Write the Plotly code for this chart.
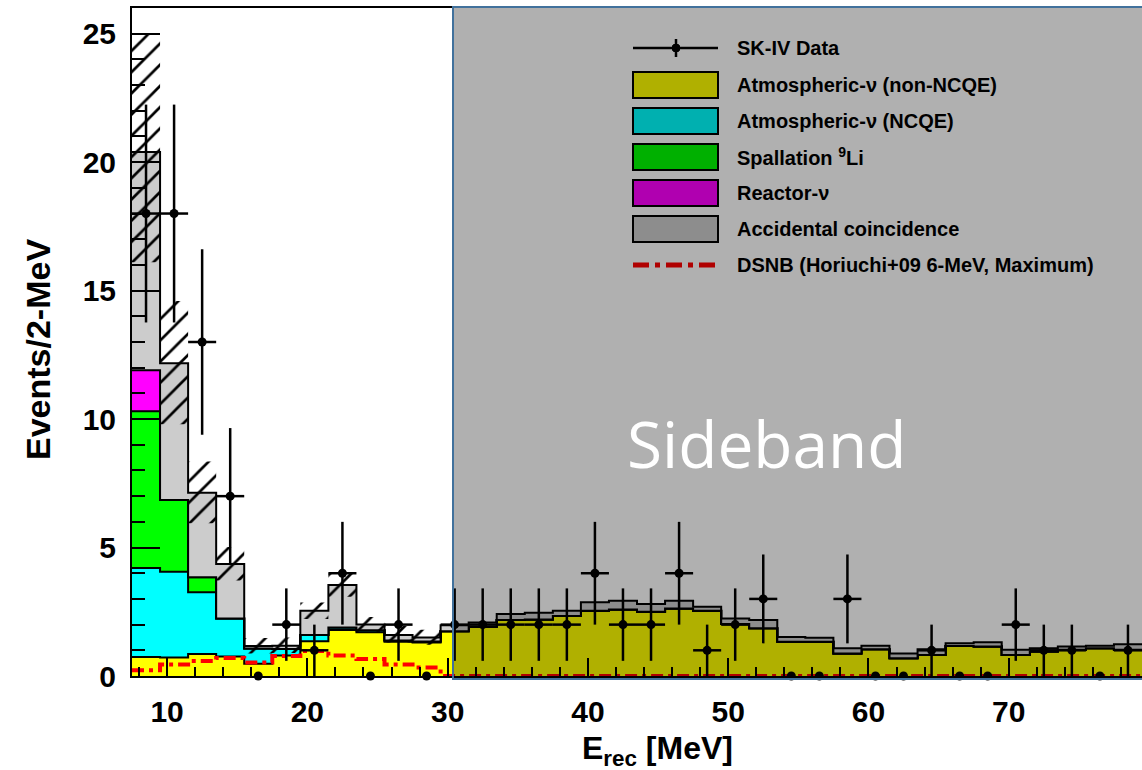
import numpy as np
import plotly.graph_objects as go

# ---------------- data ----------------
e_centers = [8.5, 10.5, 12.5, 14.5, 16.5, 18.5, 20.5, 22.5, 24.5, 26.5, 28.5,
             30.5, 32.5, 34.5, 36.5, 38.5, 40.5, 42.5, 44.5, 46.5, 48.5, 50.5,
             52.5, 54.5, 56.5, 58.5, 60.5, 62.5, 64.5, 66.5, 68.5, 70.5, 72.5,
             74.5, 76.5, 78.5]
bin_width = 2.0

atm_non_ncqe = [0.74, 0.72, 0.86, 0.76, 0.48, 0.80, 1.35, 1.79, 1.70, 1.33, 1.30,
                1.74, 1.92, 2.18, 2.20, 2.34, 2.54, 2.59, 2.50, 2.63, 2.54, 2.02,
                1.86, 1.33, 1.33, 0.88, 1.04, 0.69, 0.82, 1.17, 1.15, 0.82, 0.95,
                1.02, 1.08, 1.02]
atm_ncqe = [3.46, 3.34, 2.40, 1.48, 0.59, 0.25, 0.25, 0.10, 0.08, 0.05, 0.04,
            0, 0, 0, 0, 0, 0, 0, 0, 0, 0, 0, 0, 0, 0, 0, 0, 0, 0, 0, 0, 0, 0, 0, 0, 0]
spallation_li9 = [6.10, 2.79, 0.58, 0, 0, 0, 0, 0, 0, 0, 0,
                  0, 0, 0, 0, 0, 0, 0, 0, 0, 0, 0, 0, 0, 0, 0, 0, 0, 0, 0, 0, 0, 0, 0, 0, 0]
reactor_nu = [1.60, 0, 0, 0, 0, 0, 0, 0, 0, 0, 0,
              0, 0, 0, 0, 0, 0, 0, 0, 0, 0, 0, 0, 0, 0, 0, 0, 0, 0, 0, 0, 0, 0, 0, 0, 0]
accidental = [8.50, 5.32, 3.29, 2.12, 0.10, 0.13, 0.94, 1.65, 0.22, 0.22, 0.16,
              0.24, 0.16, 0.23, 0.26, 0.20, 0.33, 0.34, 0.30, 0.30, 0.16, 0.22,
              0.32, 0.19, 0.16, 0.20, 0.14, 0.19, 0.22, 0.10, 0.16, 0.20, 0.13,
              0.13, 0.10, 0.22]

dsnb = [0.22, 0.45, 0.58, 0.70, 0.53, 0.78, 0.97, 0.80, 0.66, 0.45, 0.33,
        0, 0, 0, 0, 0, 0, 0, 0, 0, 0, 0, 0, 0, 0, 0, 0, 0, 0, 0, 0, 0, 0, 0, 0, 0]

# systematic band (hatched) in the signal region, 7.5-29.5 MeV
band_lo = [16.1, 9.8, 5.95, 3.72, 0.88, 0.90, 2.22, 3.08, 1.72, 1.30, 1.22]
band_hi = [25.0, 14.6, 8.35, 5.02, 1.48, 1.50, 2.86, 4.00, 2.30, 1.95, 1.80]

data_counts = [18, 18, 13, 7, 0, 2, 1, 4, 0, 2, 0, 2, 2, 2, 2, 2, 4, 2, 2, 4, 1, 2,
               3, 0, 0, 3, 0, 0, 1, 0, 0, 2, 1, 1, 0, 1]
data_err = [4.24, 4.24, 3.61, 2.65, 0, 1.41, 1.0, 2.0, 0, 1.41, 0, 1.41, 1.41, 1.41,
            1.41, 1.41, 2.0, 1.41, 1.41, 2.0, 1.0, 1.41, 1.73, 0, 0, 1.73, 0, 0,
            1.0, 0, 0, 1.41, 1.0, 1.0, 0, 1.0]

legend_labels = ["SK-IV Data", "Atmospheric-ν (non-NCQE)", "Atmospheric-ν (NCQE)",
                 "Spallation <sup>9</sup>Li", "Reactor-ν", "Accidental coincidence",
                 "DSNB (Horiuchi+09 6-MeV, Maximum)"]

# ---------------- styles ----------------
C_YELLOW, C_CYAN, C_GREEN, C_MAGENTA, C_GRAY = "#ffff00", "#00ffff", "#00ff00", "#ff00ff", "#cccccc"
FONT = "Liberation Sans, Arial, sans-serif"

edges = [c - bin_width / 2 for c in e_centers] + [e_centers[-1] + bin_width / 2]

fig = go.Figure()

# stacked histogram, drawn as step fills
layers = [(atm_non_ncqe, C_YELLOW), (atm_ncqe, C_CYAN), (spallation_li9, C_GREEN),
          (reactor_nu, C_MAGENTA), (accidental, C_GRAY)]
cum = np.zeros(len(e_centers))
for i, (vals, col) in enumerate(layers):
    cum = cum + np.array(vals)
    fig.add_trace(go.Scatter(
        x=edges, y=list(cum) + [cum[-1]], mode="lines", line_shape="hv",
        line=dict(color="black", width=2), fill="tozeroy" if i == 0 else "tonexty",
        fillcolor=col, hoverinfo="skip"))

# hatched uncertainty band
n_sig = len(band_lo)
sig_edges = edges[:n_sig + 1]
fig.add_trace(go.Scatter(x=sig_edges, y=band_lo + [band_lo[-1]], mode="lines",
                         line_shape="hv", line=dict(width=0, color="rgba(0,0,0,0)"),
                         hoverinfo="skip"))
fig.add_trace(go.Scatter(x=sig_edges, y=band_hi + [band_hi[-1]], mode="lines",
                         line_shape="hv", line=dict(width=0, color="rgba(0,0,0,0)"),
                         fill="tonexty", fillcolor="black",
                         fillpattern=dict(shape="/", size=15, solidity=0.18,
                                          fgcolor="black", bgcolor="rgba(0,0,0,0)",
                                          fillmode="replace"),
                         hoverinfo="skip"))

# DSNB expectation
fig.add_trace(go.Scatter(x=edges, y=dsnb + [dsnb[-1]], mode="lines", line_shape="hv",
                         line=dict(color="#ff0000", width=4, dash="12px,5px,4px,5px"),
                         hoverinfo="skip"))

# data points
xerr = [bin_width / 2 if c > 0 else 0 for c in data_counts]
fig.add_trace(go.Scatter(
    x=e_centers, y=data_counts, mode="markers",
    marker=dict(color="black", size=9),
    error_y=dict(type="data", array=data_err, color="black", thickness=2.5, width=0),
    error_x=dict(type="data", array=xerr, color="black", thickness=2.5, width=0),
    cliponaxis=False, hoverinfo="skip"))

# ---------------- layout ----------------
L, T, B, W, H = 132, 8, 94, 1142, 770
PW, PH = W - L, H - T - B


def px(xp):
    return (xp - L) / PW


def py(yp):
    return (H - B - yp) / PH


tickfont = dict(family=FONT, size=30, color="black", weight="bold")
fig.update_layout(
    width=W, height=H, margin=dict(l=L, r=0, t=T, b=B),
    paper_bgcolor="white", plot_bgcolor="white", showlegend=False,
    xaxis=dict(range=[edges[0], edges[-1]], tick0=0, dtick=10, ticks="inside",
               ticklen=18, tickwidth=2, tickcolor="black",
               minor=dict(ticks="inside", dtick=2, ticklen=9, tickwidth=1.5, tickcolor="black"),
               showline=True, linewidth=2, linecolor="black", mirror=True,
               showgrid=False, zeroline=False, tickfont=tickfont, ticklabelstandoff=8),
    yaxis=dict(range=[0, 26], tick0=0, dtick=5, ticks="inside",
               ticklen=28, tickwidth=2, tickcolor="black",
               minor=dict(ticks="inside", dtick=1, ticklen=13, tickwidth=1.5, tickcolor="black"),
               showline=True, linewidth=2, linecolor="black",
               showgrid=False, zeroline=False, tickfont=tickfont, ticklabelstandoff=8),
)

shapes = []
ann = []
# legend (drawn under the sideband overlay)
rows = [48, 85, 121, 157, 193, 229, 265]
sw_x0, sw_x1 = 633, 718
swatch_cols = [C_YELLOW, C_CYAN, C_GREEN, C_MAGENTA, C_GRAY]
# data entry
shapes.append(dict(type="line", xref="paper", yref="paper", x0=px(sw_x0), x1=px(sw_x1),
                   y0=py(rows[0]), y1=py(rows[0]), line=dict(color="black", width=2.5), layer="above"))
shapes.append(dict(type="line", xref="paper", yref="paper", x0=px(676), x1=px(676),
                   y0=py(rows[0] - 9), y1=py(rows[0] + 9), line=dict(color="black", width=2.5), layer="above"))
shapes.append(dict(type="circle", xref="paper", yref="paper", x0=px(672), x1=px(680),
                   y0=py(rows[0] - 4), y1=py(rows[0] + 4), fillcolor="black",
                   line=dict(color="black", width=1), layer="above"))
for r, col in zip(rows[1:6], swatch_cols):
    shapes.append(dict(type="rect", xref="paper", yref="paper", x0=px(sw_x0), x1=px(sw_x1),
                       y0=py(r + 13), y1=py(r - 13), fillcolor=col,
                       line=dict(color="black", width=2), layer="above"))
shapes.append(dict(type="line", xref="paper", yref="paper", x0=px(sw_x0), x1=px(sw_x1),
                   y0=py(rows[6]), y1=py(rows[6]),
                   line=dict(color="#ff0000", width=5, dash="16px,6px,5px,6px"), layer="above"))
for r, lab in zip(rows, legend_labels):
    ann.append(dict(xref="paper", yref="paper", x=px(735), y=py(r), text=lab,
                    showarrow=False, xanchor="left", yanchor="middle",
                    font=dict(family=FONT, size=20, color="black", weight="bold")))

# sideband overlay box
shapes.append(dict(type="rect", xref="paper", yref="paper", x0=px(453), x1=1.02,
                   y0=py(679), y1=py(7), fillcolor="rgba(0,0,0,0.31)",
                   line=dict(color="#41719c", width=2), layer="above"))
ann.append(dict(xref="paper", yref="paper", x=px(766), y=py(444), text="Sideband",
                showarrow=False, xanchor="center", yanchor="middle",
                font=dict(family="Open Sans", size=64, color="white")))

# axis titles
ann.append(dict(xref="paper", yref="paper", x=px(657), y=py(750),
                text="E<sub>rec</sub> [MeV]", showarrow=False, xanchor="center", yanchor="middle",
                font=dict(family=FONT, size=32, color="black", weight="bold")))
ann.append(dict(xref="paper", yref="paper", x=px(38), y=py(350),
                text="Events/2-MeV", showarrow=False, textangle=-90,
                xanchor="center", yanchor="middle",
                font=dict(family=FONT, size=34, color="black", weight="bold")))

fig.update_layout(shapes=shapes, annotations=ann)
fig.write_html("out.html")
